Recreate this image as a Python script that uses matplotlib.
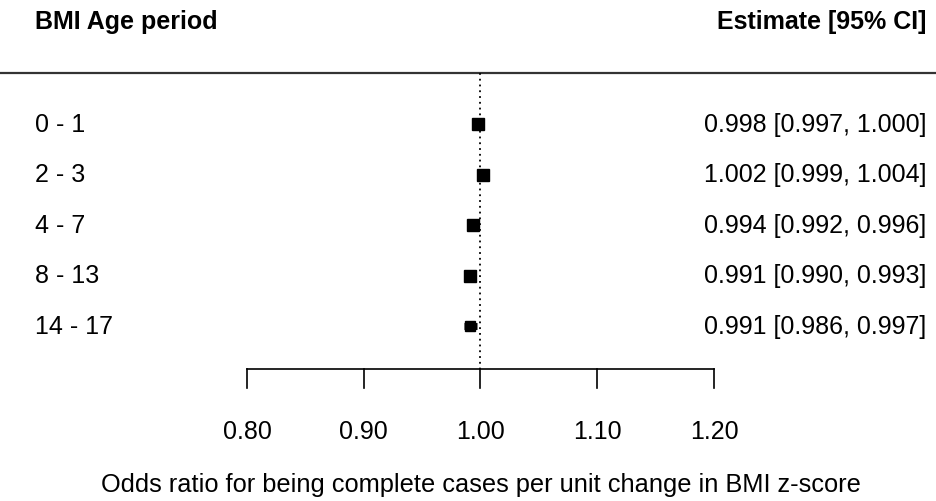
import matplotlib
matplotlib.use("Agg")
import matplotlib.pyplot as plt

labels = ["0 - 1", "2 - 3", "4 - 7", "8 - 13", "14 - 17"]
est = [0.998, 1.002, 0.994, 0.991, 0.991]
lo = [0.997, 0.999, 0.992, 0.990, 0.986]
hi = [1.000, 1.004, 0.996, 0.993, 0.997]
msize = [8.3, 8.3, 8.3, 8.3, 7.8]
xticks = [0.80, 0.90, 1.00, 1.10, 1.20]
header_left = "BMI Age period"
header_right = "Estimate [95% CI]"
xlabel = "Odds ratio for being complete cases per unit change in BMI z-score"

plt.rcParams['font.family'] = ['Liberation Sans', 'DejaVu Sans']
W, H = 937, 502
fig = plt.figure(figsize=(W/100, H/100), dpi=100)
ax = fig.add_axes([0, 0, 1, 1])
ax.axis('off')

# x mapping: 0.80 at px 247, 1.20 at px 714
scale = 0.4 / (714 - 247)
x0 = 0.80 - 247 * scale
x1 = 0.80 + (W - 247) * scale
ax.set_xlim(x0, x1)
ax.set_ylim(H, 0)

def px(p):
    return x0 + p * scale

row_y = [125 + 50.5 * i for i in range(len(labels))]
fs = 18

# header
ax.text(px(35), 22, header_left, fontsize=fs, fontweight='bold', ha='left', va='center')
ax.text(px(926), 22, header_right, fontsize=fs, fontweight='bold', ha='right', va='center')
ax.plot([px(0), px(W)], [74, 74], color='#333333', lw=1.6, solid_capstyle='butt')

# reference line
ax.plot([1.0, 1.0], [74, 370], color='black', lw=1.3, ls=(0, (1, 2.2)))

for i, (y, lab, e, l, h, s) in enumerate(zip(row_y, labels, est, lo, hi, msize)):
    lw = 1.2 if i < len(labels) - 1 else 5.0
    ax.plot([l, h], [y, y], color='black', lw=lw, solid_capstyle='butt')
    ax.plot([e], [y], marker='s', color='black', markersize=s, ls='none')
    ax.text(px(35), y, lab, fontsize=fs, ha='left', va='center')
    ax.text(px(926), y, f"{e:.3f} [{l:.3f}, {h:.3f}]", fontsize=fs, ha='right', va='center')

# axis
ax.plot([xticks[0], xticks[-1]], [370, 370], color='black', lw=1.2)
for t in xticks:
    ax.plot([t, t], [370, 389], color='black', lw=1.2)
    ax.text(t, 432, f"{t:.2f}", fontsize=fs, ha='center', va='center')

ax.text(1.0, 485, xlabel, fontsize=18.3, ha='center', va='center')

fig.savefig("out.png", dpi=100)
